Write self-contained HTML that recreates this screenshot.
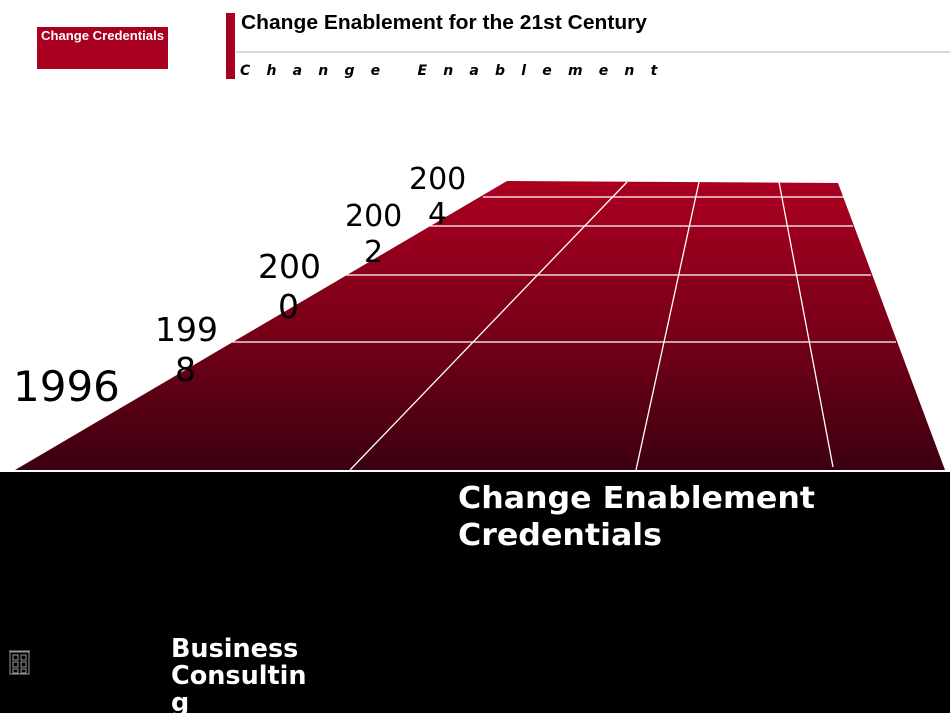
<!DOCTYPE html>
<html><head><style>
body{margin:0;width:950px;height:713px;overflow:hidden;background:#fff;position:relative;font-family:"DejaVu Sans",sans-serif}
</style></head><body>
<svg width="950" height="713" style="position:absolute;left:0;top:0">
<defs><linearGradient id="g" x1="0" y1="0" x2="0" y2="1">
<stop offset="0" stop-color="#ab0020"/><stop offset="0.5" stop-color="#7a0018"/><stop offset="1" stop-color="#3c0010"/></linearGradient></defs>
<rect x="37" y="27" width="131" height="42" fill="#a8001e"/>
<text x="41" y="40" font-family="Liberation Sans" font-weight="bold" font-size="13" fill="#fff" textLength="123" lengthAdjust="spacingAndGlyphs">Change Credentials</text>
<rect x="226" y="13" width="9" height="66" fill="#a8001e"/>
<text x="241" y="29" font-family="Liberation Sans" font-weight="bold" font-size="20.5" fill="#000" textLength="406" lengthAdjust="spacingAndGlyphs">Change Enablement for the 21st Century</text>
<line x1="236" y1="52" x2="950" y2="52" stroke="#ccc" stroke-width="1.5"/>
<text x="240" y="75" font-family="DejaVu Sans" font-weight="bold" font-style="italic" font-size="14" fill="#000" letter-spacing="16.2">Change Enablement</text>
<polygon points="15,470 945,470 838,183 507,181" fill="url(#g)"/>
<g stroke="#fff" stroke-width="1.3" fill="none">
<line x1="483" y1="197" x2="844" y2="197"/>
<line x1="430" y1="226" x2="853" y2="226"/>
<line x1="345" y1="275" x2="871" y2="275"/>
<line x1="232" y1="342" x2="896" y2="342"/>
<line x1="350" y1="470" x2="627" y2="182"/>
<line x1="636" y1="470" x2="699" y2="182"/>
<line x1="833" y1="467" x2="779" y2="182"/>
</g>
<rect x="0" y="472" width="950" height="241" fill="#000"/>
<g font-family="DejaVu Sans" fill="#000">
<text x="13" y="401" font-size="42">1996</text>
<text x="155" y="341" font-size="33">199</text><text x="175" y="381" font-size="33">8</text>
<text x="258" y="278" font-size="33">200</text><text x="278" y="318" font-size="33">0</text>
<text x="345" y="226" font-size="30">200</text><text x="364" y="262" font-size="30">2</text>
<text x="409" y="189" font-size="30">200</text><text x="428" y="224" font-size="30">4</text>
</g>
<g font-family="DejaVu Sans" font-weight="bold" fill="#fff">
<text x="458" y="508" font-size="30.5" textLength="357" lengthAdjust="spacingAndGlyphs">Change Enablement</text>
<text x="458" y="545" font-size="30.5" textLength="204" lengthAdjust="spacingAndGlyphs">Credentials</text>
<text x="171" y="657" font-size="25.5">Business</text>
<text x="171" y="684" font-size="25.5">Consultin</text>
<text x="171" y="711" font-size="25.5">g</text>
</g>
<g stroke="#999" fill="none" stroke-width="1">
<rect x="10" y="652" width="19" height="22"/><line x1="9" y1="651" x2="30" y2="651"/>
<rect x="13" y="655" width="5" height="5"/><rect x="21" y="655" width="5" height="5"/>
<rect x="13" y="662" width="5" height="5"/><rect x="21" y="662" width="5" height="5"/>
<rect x="13" y="669" width="5" height="4"/><rect x="21" y="669" width="5" height="4"/>
</g>
</svg>
</body></html>
